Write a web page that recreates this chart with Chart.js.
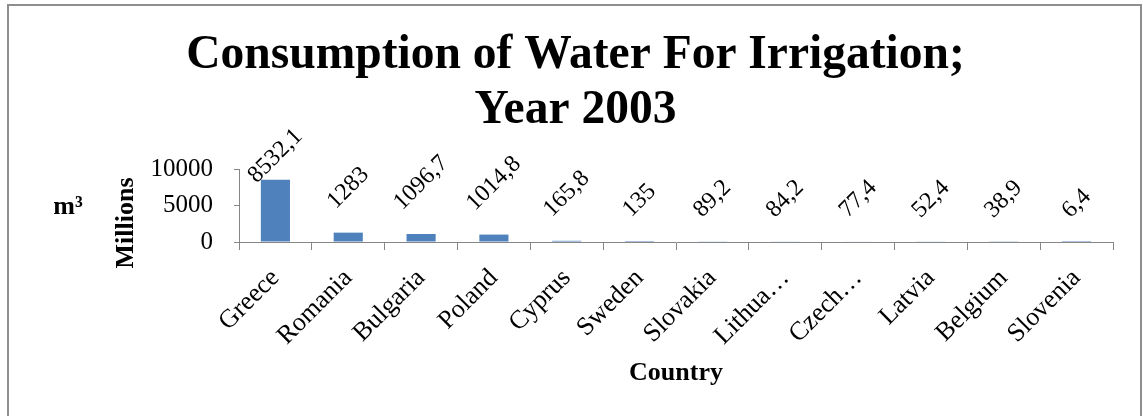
<!DOCTYPE html>
<html>
<head>
<meta charset="utf-8">
<script src="https://cdn.jsdelivr.net/npm/chart.js@4.4.1/dist/chart.umd.min.js"></script>
<style>
    html, body { margin:0; padding:0; background:#fff; }
    #wrap { width:1143px; height:416px; }
</style>
</head>
<body>
<div id="wrap"><canvas id="waterChart" width="1143" height="416"></canvas></div>
<script>
const countries = ['Greece','Romania','Bulgaria','Poland','Cyprus','Sweden','Slovakia','Lithua…','Czech…','Latvia','Belgium','Slovenia'];
const irrigation = [8532.1, 1283, 1096.7, 1014.8, 165.8, 135, 89.2, 84.2, 77.4, 52.4, 38.9, 6.4];
const yTicks = [0, 5000, 10000];
const titleLines = ['Consumption of Water For Irrigation;', 'Year 2003'];

const SERIF = "'Liberation Serif', 'Times New Roman', serif";
const AXIS = '#868686';

// outer frame + y-axis unit labels
const framePlugin = {
    id: 'frame',
    beforeDraw(chart) {
        const ctx = chart.ctx;
        ctx.save();
        ctx.fillStyle = '#fff';
        ctx.fillRect(0, 0, chart.width, chart.height);
        ctx.strokeStyle = '#8e8e8e';
        ctx.lineWidth = 2;
        ctx.strokeRect(8, 5, 1133, 440);
        ctx.restore();
    },
    afterDraw(chart) {
        const ctx = chart.ctx;
        ctx.save();
        ctx.fillStyle = '#000';
        ctx.font = `bold 26px ${SERIF}`;
        ctx.textAlign = 'center';
        ctx.textBaseline = 'middle';
        ctx.fillText('m³', 68, 207);
        ctx.translate(126, 223);
        ctx.rotate(-Math.PI / 2);
        ctx.fillText('Millions', 0, 0);
        ctx.restore();
    }
};

// rotated value labels above the bars, comma as decimal sign
const valueLabels = {
    id: 'valueLabels',
    afterDatasetsDraw(chart) {
        const ctx  = chart.ctx;
        const meta = chart.getDatasetMeta(0);
        const data = chart.data.datasets[0].data;
        ctx.save();
        ctx.font = `24px ${SERIF}`;
        ctx.fillStyle = '#000';
        ctx.textAlign = 'center';
        ctx.textBaseline = 'middle';
        meta.data.forEach((bar, i) => {
            const txt  = String(data[i]).replace('.', ',');
            const w    = ctx.measureText(txt).width;
            const half = (w + 16) * 0.354;
            let cy = bar.y - 22 - half;
            if (cy - half < 127) cy = 127 + half;
            ctx.save();
            ctx.translate(bar.x, cy);
            ctx.rotate(-Math.PI / 4);
            ctx.fillText(txt, 0, 0);
            ctx.restore();
        });
        ctx.restore();
    }
};

new Chart(document.getElementById('waterChart'), {
    type: 'bar',
    data: {
        labels: countries,
        datasets: [{
            data: irrigation,
            backgroundColor: '#4F81BD',
            borderWidth: 0,
            categoryPercentage: 1,
            barPercentage: 0.4
        }]
    },
    options: {
        responsive: false,
        animation: false,
        devicePixelRatio: 1,
        layout: { padding: { left: 38, right: 30, top: 0, bottom: 0 } },
        plugins: {
            legend: { display: false },
            tooltip: { enabled: false },
            title: {
                display: true,
                text: titleLines,
                color: '#000',
                font: { family: SERIF, size: 47.5, weight: 'bold', lineHeight: 1.158 },
                padding: { top: 28, bottom: 31 }
            }
        },
        scales: {
            x: {
                afterFit: s => { s.height = 174; },
                border: { color: AXIS, width: 1 },
                grid: { display: true, drawOnChartArea: false, offset: true, tickLength: 8, color: AXIS },
                ticks: { autoSkip: false, minRotation: 45, maxRotation: 45, padding: 13, color: '#000', font: { family: SERIF, size: 26 } },
                title: { display: true, text: 'Country', color: '#000', font: { family: SERIF, size: 26, weight: 'bold' }, padding: { top: 0, bottom: 27 } }
            },
            y: {
                min: 0, max: 10000,
                afterFit: s => { s.width = 201; },
                afterBuildTicks: s => { s.ticks = yTicks.map(v => ({ value: v })); },
                border: { color: AXIS, width: 1 },
                grid: { display: true, drawOnChartArea: false, tickLength: 5, color: AXIS },
                ticks: { padding: 21, color: '#000', font: { family: SERIF, size: 25 }, callback: v => String(v) }
            }
        }
    },
    plugins: [framePlugin, valueLabels]
});
</script>
</body>
</html>
